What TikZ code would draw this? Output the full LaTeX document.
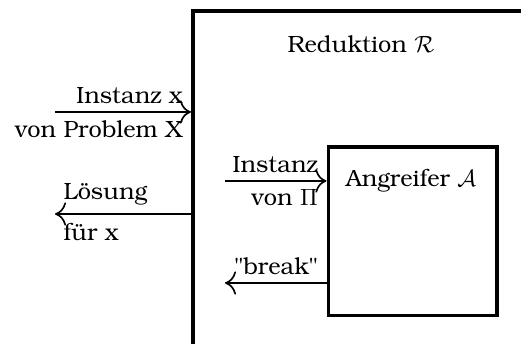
\documentclass[tikz,border=0pt]{standalone}
\usepackage[T1]{fontenc}
\usepackage{bookman}
\usepackage{amsmath,amssymb}
\usetikzlibrary{positioning,calc,arrows.meta}

\begin{document}
\begin{tikzpicture}[x=0.425pt,y=-0.425pt,
        box/.style={draw, rectangle, line width=1.3pt},
        pfeil/.style={-{To[scale=1.5]}, line width=0.7pt}]
        \useasboundingbox (0,0) rectangle (521,344);
        \clip (0,0) rectangle (521,344);
        \node[box, line width=1.7pt, anchor=north west, minimum width=200pt, minimum height=180pt] (reduktion) at (191,9) {};
        \node[box, minimum width=71.8pt, minimum height=71.8pt] (angreifer) at (412.5,231.5) {};
        \node[anchor=base] (titelR) at (361,53) {Reduktion $\mathcal{R}$};
        \node[anchor=base] (titelA) at (411,187) {Angreifer $\mathcal{A}$};
        \coordinate (einX) at (55,112);
        \coordinate (ausX) at (55,214);
        \coordinate (einPi) at (225,181);
        \coordinate (ausPi) at (225,283);
        \draw[pfeil] (einX) -- (einX -| reduktion.west) node[pos=1, above left] (lblInstX) {Instanz x} node[pos=1, below left] (lblProbX) {von Problem X};
        \draw[pfeil] (ausX -| reduktion.west) -- (ausX) node[pos=1, above right] (lblLoes) {L\"osung} node[pos=1, below right] (lblFuer) {f\"ur x};
        \draw[pfeil] (einPi) -- (einPi -| angreifer.west) node[pos=1, above left] (lblInstPi) {Instanz} node[pos=1, below left] (lblVonPi) {von $\Pi$};
        \draw[pfeil] (ausPi -| angreifer.west) -- (ausPi) node[pos=0, above left] (lblBreak) {"break"};
    \end{tikzpicture}
\end{document}
